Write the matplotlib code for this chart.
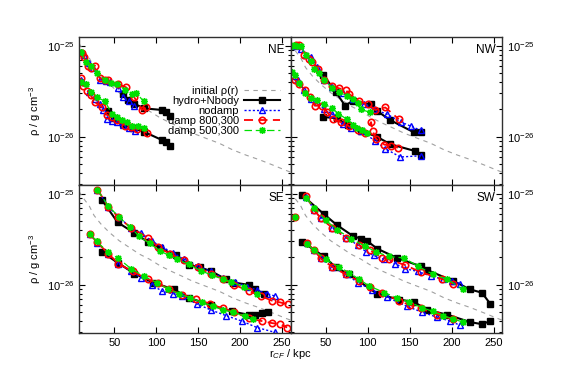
import matplotlib
matplotlib.use("Agg")
import matplotlib.pyplot as plt
from matplotlib.ticker import FixedLocator, LogLocator, NullFormatter

plt.rcParams['font.family'] = ['Liberation Sans', 'DejaVu Sans']
plt.rcParams['mathtext.fontset'] = 'custom'
plt.rcParams['mathtext.rm'] = 'Liberation Sans'
plt.rcParams['mathtext.it'] = 'Liberation Sans:italic'

# density in units of 1e-26 g cm^-3, radius in kpc

# initial profile (same in every panel)
init_r = [8, 12, 20, 26, 34, 44, 56, 68, 80, 92, 105, 117, 131, 143, 159, 175, 191, 207, 223, 239, 254, 260]
init_u = [10.6, 9.2, 7.4, 5.75, 4.66, 3.77, 3.04, 2.57, 2.17, 1.91, 1.61, 1.42, 1.24, 1.10, 0.965, 0.85, 0.72, 0.63, 0.56, 0.49, 0.43, 0.41]

# ---- NE ----
ne_hyd_up_r = [60, 66, 74, 86, 107, 112, 116]
ne_hyd_up_u = [2.95, 2.55, 2.3, 2.05, 1.97, 1.85, 1.68]
ne_nod_up_r = [10, 14, 20, 25, 33, 40, 45, 55, 61, 67, 73]
ne_nod_up_u = [8.5, 7.9, 6.4, 5.7, 4.2, 4.1, 4.0, 3.4, 2.7, 2.5, 2.2]
ne_d8_up_r = [11, 14, 19, 22, 27, 33, 39, 42, 55, 64, 74, 83, 88]
ne_d8_up_u = [8.3, 7.5, 6.05, 5.7, 6.05, 4.4, 4.25, 4.15, 3.75, 3.5, 2.7, 1.97, 2.1]
ne_d5_up_r = [10, 16, 22, 30, 39, 46, 53, 63, 71, 76, 85]
ne_d5_up_u = [8.6, 6.6, 6.0, 5.0, 4.2, 3.9, 3.75, 3.3, 2.95, 3.05, 2.45]

ne_hyd_lo_r = [42, 50, 60, 72, 86, 107, 112, 116]
ne_hyd_lo_u = [1.9, 1.6, 1.38, 1.25, 1.13, 0.92, 0.87, 0.80]
ne_nod_lo_r = [10, 13, 20, 27, 33, 37, 41, 47, 53, 60, 68, 75]
ne_nod_lo_u = [4.2, 4.0, 3.1, 2.6, 2.3, 1.95, 1.55, 1.5, 1.44, 1.35, 1.25, 1.16]
ne_d8_lo_r = [10, 13, 18, 22, 27, 35, 41, 47, 53, 63, 70, 77, 89]
ne_d8_lo_u = [4.4, 3.6, 3.2, 2.85, 2.4, 2.15, 1.75, 1.65, 1.52, 1.33, 1.28, 1.22, 1.11]
ne_d5_lo_r = [10, 16, 22, 30, 39, 47, 53, 59, 65, 71, 78, 85]
ne_d5_lo_u = [4.0, 3.75, 3.1, 2.7, 2.45, 1.8, 1.65, 1.52, 1.45, 1.32, 1.3, 1.25]

# ---- NW ----
nw_hyd_up_r = [47, 62, 73, 82, 104, 111, 126, 155, 163]
nw_hyd_up_u = [4.8, 3.1, 2.2, 2.47, 2.27, 1.93, 1.54, 1.12, 1.14]
nw_nod_up_r = [14, 20, 26, 32, 40, 48, 58, 70, 82, 95, 108, 123, 140, 152, 163]
nw_nod_up_u = [10.0, 9.2, 8.0, 7.6, 5.9, 4.2, 3.5, 3.0, 2.6, 2.3, 2.0, 1.77, 1.45, 1.3, 1.18]
nw_d8_up_r = [14, 18, 24, 30, 34, 41, 48, 58, 66, 74, 78, 90, 100, 109, 121, 137]
nw_d8_up_u = [10.3, 10.1, 8.0, 7.2, 6.7, 5.5, 4.15, 3.6, 3.4, 3.25, 2.95, 2.45, 2.3, 1.97, 2.1, 1.56]
nw_d5_up_r = [10, 12, 16, 20, 26, 32, 36, 42, 48, 58, 66, 75, 82, 88, 92, 103]
nw_d5_up_u = [10.0, 10.2, 9.8, 9.8, 8.0, 6.8, 5.5, 5.0, 4.2, 3.45, 3.1, 2.8, 2.6, 2.37, 2.0, 1.85]

nw_hyd_lo_r = [47, 63, 76, 92, 111, 127, 156, 163]
nw_hyd_lo_u = [1.65, 1.6, 1.35, 1.17, 1.0, 0.83, 0.70, 0.63]
nw_nod_lo_r = [13, 17, 24, 32, 40, 48, 58, 70, 80, 92, 109, 121, 139, 163]
nw_nod_lo_u = [4.6, 4.2, 3.3, 2.6, 2.4, 2.0, 1.77, 1.37, 1.25, 1.16, 0.9, 0.74, 0.6, 0.62]
nw_d8_lo_r = [13, 18, 25, 31, 37, 45, 52, 59, 68, 78, 88, 97, 104, 106, 110, 120, 128, 136]
nw_d8_lo_u = [4.2, 3.8, 3.3, 2.7, 2.2, 2.2, 1.85, 1.55, 1.45, 1.3, 1.2, 1.1, 1.45, 1.15, 0.95, 0.82, 0.8, 0.76]
nw_d5_lo_r = [10, 13, 18, 25, 33, 39, 48, 57, 65, 75, 83, 87, 93, 99]
nw_d5_lo_u = [5.2, 4.8, 3.9, 3.0, 2.66, 2.55, 2.3, 2.07, 1.8, 1.56, 1.36, 1.26, 1.2, 1.11]

# ---- SE ----
se_hyd_up_r = [35, 54, 74, 90, 104, 123, 139, 152, 165, 183, 192, 210, 218, 228]
se_hyd_up_u = [8.6, 4.85, 3.7, 2.95, 2.55, 2.1, 1.65, 1.55, 1.42, 1.15, 1.06, 1.0, 0.9, 0.8]
se_nod_up_r = [30, 43, 56, 70, 82, 95, 107, 120, 133, 150, 165, 180, 194, 208, 220, 232, 242]
se_nod_up_u = [11.0, 7.2, 5.5, 4.2, 3.7, 3.0, 2.6, 2.25, 1.9, 1.6, 1.4, 1.18, 1.08, 0.95, 0.88, 0.8, 0.75]
se_d8_up_r = [30, 43, 55, 70, 90, 102, 116, 133, 150, 165, 180, 193, 210, 225, 238, 248, 257]
se_d8_up_u = [11.1, 7.2, 5.5, 4.2, 3.3, 2.6, 2.2, 1.85, 1.55, 1.33, 1.15, 1.0, 0.86, 0.75, 0.67, 0.64, 0.61]
se_d5_up_r = [30, 43, 56, 69, 80, 92, 105, 115, 125, 139, 153, 167, 180, 189, 204, 220]
se_d5_up_u = [11.0, 7.3, 5.5, 4.3, 3.4, 2.85, 2.35, 2.1, 1.9, 1.68, 1.43, 1.27, 1.15, 1.08, 0.95, 0.8]

se_hyd_lo_r = [35, 54, 74, 96, 121, 139, 165, 190, 210, 218, 226, 233]
se_hyd_lo_u = [2.3, 1.75, 1.33, 1.06, 0.89, 0.72, 0.6, 0.51, 0.47, 0.47, 0.49, 0.5]
se_nod_lo_r = [21, 30, 43, 55, 70, 82, 95, 107, 120, 131, 148, 165, 183, 202, 220, 242]
se_nod_lo_u = [3.6, 2.9, 2.2, 1.7, 1.4, 1.2, 1.0, 0.85, 0.8, 0.75, 0.62, 0.53, 0.46, 0.4, 0.34, 0.3]
se_d8_lo_r = [21, 29, 43, 55, 72, 90, 102, 115, 131, 147, 164, 179, 193, 210, 226, 238, 248, 256]
se_d8_lo_u = [3.6, 2.95, 2.2, 1.7, 1.4, 1.15, 1.05, 0.89, 0.78, 0.7, 0.62, 0.55, 0.5, 0.43, 0.4, 0.38, 0.37, 0.34]
se_d5_lo_r = [21, 29, 42, 55, 70, 85, 101, 114, 127, 140, 155, 168, 180, 192, 206, 215]
se_d5_lo_u = [3.6, 3.0, 2.3, 1.95, 1.5, 1.25, 1.05, 0.9, 0.8, 0.72, 0.64, 0.58, 0.53, 0.5, 0.45, 0.42]

# ---- SW ----
sw_hyd_up_r = [22, 48, 63, 82, 92, 99, 111, 135, 163, 171, 202, 222, 236, 246]
sw_hyd_up_u = [9.6, 5.95, 4.55, 3.45, 3.2, 3.05, 2.5, 1.97, 1.6, 1.45, 1.1, 0.89, 0.82, 0.62]
sw_nod_up_r = [27, 36, 44, 58, 74, 89, 98, 107, 120, 133, 145, 160, 175, 190, 200, 210]
sw_nod_up_u = [9.3, 6.6, 5.4, 4.2, 3.3, 2.7, 2.3, 2.1, 1.9, 1.7, 1.5, 1.4, 1.25, 1.15, 1.1, 1.03]
sw_d8_up_r = [27, 36, 44, 58, 74, 90, 103, 117, 125, 145, 163, 189, 202]
sw_d8_up_u = [9.35, 6.65, 5.4, 4.2, 3.3, 2.7, 2.4, 1.97, 1.9, 1.64, 1.38, 1.15, 1.03]
sw_d5_up_r = [27, 36, 50, 64, 80, 97, 110, 125, 143, 160, 178, 195, 213]
sw_d5_up_u = [9.0, 7.0, 5.1, 4.0, 3.2, 2.65, 2.3, 2.05, 1.97, 1.6, 1.3, 1.15, 0.89]

sw_hyd_lo_r = [22, 48, 62, 78, 111, 137, 155, 171, 195, 222, 236, 246]
sw_hyd_lo_u = [2.95, 2.05, 1.55, 1.3, 0.8, 0.69, 0.65, 0.53, 0.47, 0.39, 0.37, 0.4]
sw_nod_lo_r = [28, 36, 44, 58, 74, 89, 105, 123, 147, 165, 183, 198, 210]
sw_nod_lo_u = [2.85, 2.4, 1.95, 1.57, 1.3, 1.05, 0.88, 0.73, 0.58, 0.5, 0.44, 0.4, 0.36]
sw_d8_lo_r = [28, 36, 44, 58, 74, 90, 103, 117, 137, 150, 163, 183, 202]
sw_d8_lo_u = [2.85, 2.4, 1.95, 1.57, 1.3, 1.1, 0.95, 0.82, 0.67, 0.6, 0.55, 0.47, 0.42]
sw_d5_lo_r = [28, 36, 50, 66, 78, 90, 101, 120, 135, 149, 165, 178, 190, 202, 214]
sw_d5_lo_u = [2.8, 2.4, 1.9, 1.57, 1.35, 1.15, 0.98, 0.82, 0.72, 0.65, 0.56, 0.51, 0.46, 0.42, 0.39]
sw_extra_r = [13]
sw_extra_u = [5.56]

labels = ['initial ρ(r)', 'hydro+Nbody', 'nodamp', 'damp 800,300', 'damp 500,300']

sty_init = dict(color='#a0a0a0', lw=0.8, dashes=(4, 4))
sty = {
    'hyd': dict(color='black', ls='-', lw=1.5, marker='s', ms=4, mfc='black', mec='black'),
    'nod': dict(color='#0000ff', ls=(0, (1.5, 1.5)), lw=1.0, marker='^', ms=4, mfc='none', mec='#0000ff', mew=1),
    'd8': dict(color='#ff0000', ls=(0, (5, 3)), lw=1.3, marker='o', ms=4.6, mfc='none', mec='#ff0000', mew=1.2),
    'd5': dict(color='#00e000', ls=(0, (6, 3)), lw=0.9, marker=(8, 2, 0), ms=5, mec='#00e000', mew=1),
}

panels = {
    'NE': [(ne_hyd_up_r, ne_hyd_up_u, ne_hyd_lo_r, ne_hyd_lo_u),
           (ne_nod_up_r, ne_nod_up_u, ne_nod_lo_r, ne_nod_lo_u),
           (ne_d8_up_r, ne_d8_up_u, ne_d8_lo_r, ne_d8_lo_u),
           (ne_d5_up_r, ne_d5_up_u, ne_d5_lo_r, ne_d5_lo_u)],
    'NW': [(nw_hyd_up_r, nw_hyd_up_u, nw_hyd_lo_r, nw_hyd_lo_u),
           (nw_nod_up_r, nw_nod_up_u, nw_nod_lo_r, nw_nod_lo_u),
           (nw_d8_up_r, nw_d8_up_u, nw_d8_lo_r, nw_d8_lo_u),
           (nw_d5_up_r, nw_d5_up_u, nw_d5_lo_r, nw_d5_lo_u)],
    'SE': [(se_hyd_up_r, se_hyd_up_u, se_hyd_lo_r, se_hyd_lo_u),
           (se_nod_up_r, se_nod_up_u, se_nod_lo_r, se_nod_lo_u),
           (se_d8_up_r, se_d8_up_u, se_d8_lo_r, se_d8_lo_u),
           (se_d5_up_r, se_d5_up_u, se_d5_lo_r, se_d5_lo_u)],
    'SW': [(sw_hyd_up_r, sw_hyd_up_u, sw_hyd_lo_r, sw_hyd_lo_u),
           (sw_nod_up_r, sw_nod_up_u, sw_nod_lo_r, sw_nod_lo_u),
           (sw_d8_up_r, sw_d8_up_u, sw_d8_lo_r, sw_d8_lo_u),
           (sw_d5_up_r, sw_d5_up_u, sw_d5_lo_r, sw_d5_lo_u)],
}

fig, axes = plt.subplots(2, 2, sharex=True, sharey=True, figsize=(5.81, 3.70), dpi=100)
fig.subplots_adjust(left=0.136, right=0.864, top=0.9, bottom=0.1, wspace=0, hspace=0)

keys = ['hyd', 'nod', 'd8', 'd5']
for ax, name in zip(axes.flat, ['NE', 'NW', 'SE', 'SW']):
    ax.set_yscale('log')
    ax.plot(init_r, init_u, label=labels[0], **sty_init)
    for k, lab, (ru, uu, rl, ul) in zip(keys, labels[1:], panels[name]):
        ax.plot(ru, uu, label=lab, **sty[k])
        ax.plot(rl, ul, **sty[k])
    if name == 'SW':
        ax.plot(sw_extra_r, sw_extra_u, ls='none', **{k: v for k, v in sty['d8'].items() if k != 'ls'})
        ax.plot(sw_extra_r, sw_extra_u, ls='none', **{k: v for k, v in sty['d5'].items() if k != 'ls'})
    ax.text(0.97, 0.91, name, transform=ax.transAxes, ha='right', va='center', fontsize=8.5)

    ax.set_xlim(8, 260)
    ax.set_ylim(0.296, 12.45)
    ax.xaxis.set_major_locator(FixedLocator([50, 100, 150, 200, 250]))
    ax.yaxis.set_major_locator(FixedLocator([1, 10]))
    ax.yaxis.set_minor_locator(LogLocator(subs=range(2, 10)))
    ax.yaxis.set_minor_formatter(NullFormatter())
    ax.set_yticklabels(['10$^{-26}$', '10$^{-25}$'])
    ax.tick_params(which='both', direction='in', top=True, right=True, labelsize=8)
    ax.tick_params(which='major', length=4.5, width=0.8)
    ax.tick_params(which='minor', length=2.5, width=0.8)
    for s in ax.spines.values():
        s.set_linewidth(1.0)
        s.set_color('#303030')

for ax in axes[:, 1]:
    ax.tick_params(labelleft=False, labelright=True)
for ax in axes[:, 0]:
    ax.set_ylabel('ρ / g cm$^{-3}$', fontsize=8)
    ax.yaxis.set_label_coords(-0.17, 0.5)

axes[0, 0].legend(loc='upper right', bbox_to_anchor=(0.95, 0.67), frameon=False,
                  markerfirst=False, fontsize=8, handlelength=3.2, handletextpad=0.5,
                  labelspacing=0.0, borderaxespad=0, borderpad=0, numpoints=1)

fig.text(0.5, 0.042, 'r$_{CF}$ / kpc', ha='center', va='center', fontsize=8)

fig.savefig('out.png', dpi=100)
